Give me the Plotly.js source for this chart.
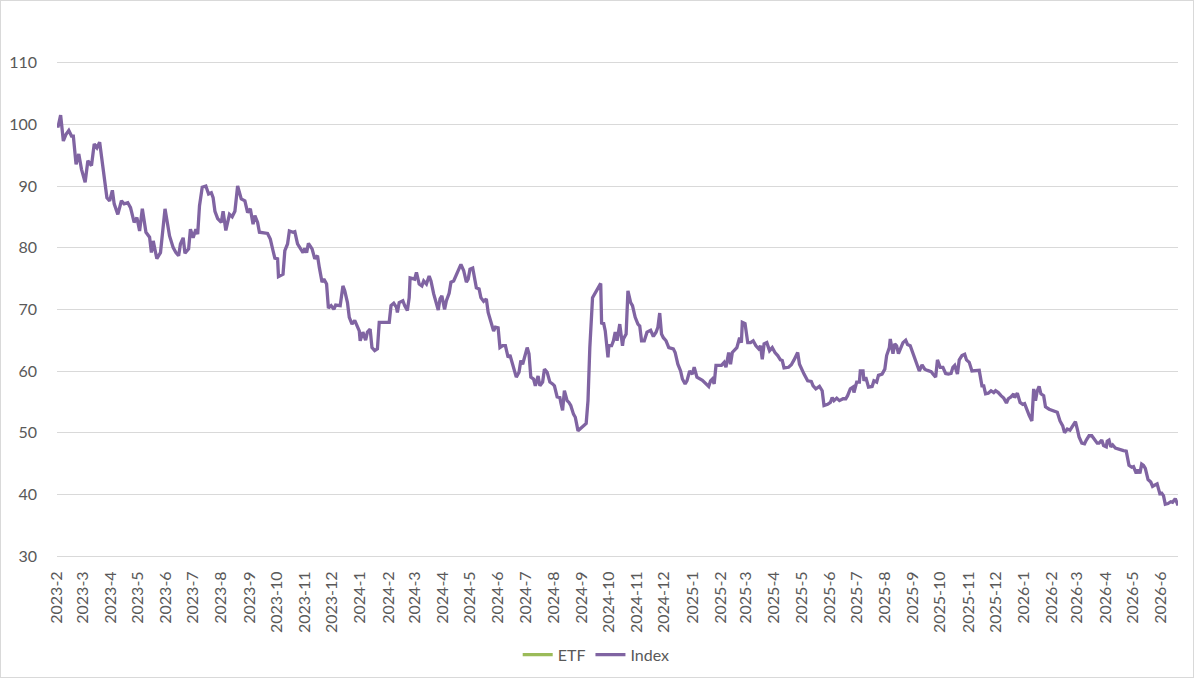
<!DOCTYPE html>
<html>
<head>
<meta charset="utf-8">
<script src="https://cdn.plot.ly/plotly-3.0.1.min.js"></script>
<style>
  html, body { margin: 0; padding: 0; background: #fff; }
  #chart { width: 1192px; height: 676px; border: 1px solid #d9d9d9; }
</style>
</head>
<body>
<div id="chart"></div>
<script>
// index values, one pair of arrays per year

var dates2023 = [
  '2023-02-01','2023-02-02','2023-02-05','2023-02-08','2023-02-11','2023-02-14','2023-02-17','2023-02-19','2023-02-22','2023-02-25','2023-02-28',
  '2023-03-04','2023-03-07','2023-03-11','2023-03-14','2023-03-17','2023-03-20','2023-03-24','2023-03-28','2023-03-31',
  '2023-04-03','2023-04-05','2023-04-09','2023-04-13','2023-04-16','2023-04-20','2023-04-23','2023-04-27','2023-04-30',
  '2023-05-03','2023-05-06','2023-05-10','2023-05-14','2023-05-16','2023-05-18','2023-05-22','2023-05-26','2023-05-31',
  '2023-06-05','2023-06-09','2023-06-12','2023-06-15','2023-06-17','2023-06-20','2023-06-22','2023-06-26','2023-06-28',
  '2023-07-01','2023-07-04','2023-07-06','2023-07-08','2023-07-11','2023-07-15','2023-07-18','2023-07-21','2023-07-23','2023-07-25','2023-07-28',
  '2023-08-01','2023-08-03','2023-08-06','2023-08-10','2023-08-13','2023-08-16','2023-08-19','2023-08-23','2023-08-27','2023-08-30',
  '2023-09-02','2023-09-05','2023-09-07','2023-09-10','2023-09-12','2023-09-21','2023-09-24','2023-09-27','2023-09-29',
  '2023-10-02','2023-10-03','2023-10-08','2023-10-10','2023-10-13','2023-10-15','2023-10-19','2023-10-21','2023-10-24','2023-10-27','2023-10-30',
  '2023-11-01','2023-11-03','2023-11-05','2023-11-09','2023-11-12','2023-11-15','2023-11-17','2023-11-20','2023-11-22','2023-11-25','2023-11-27','2023-11-30',
  '2023-12-03','2023-12-05','2023-12-10','2023-12-13','2023-12-15','2023-12-18','2023-12-20','2023-12-23','2023-12-26','2023-12-29','2023-12-31'
];
var index2023 = [
  100.0, 99.5, 101.5, 97.3, 98.4, 99.0, 98.1, 98.1, 93.5, 95.2, 92.7,
  90.6, 94.1, 93.3, 96.8, 96.2, 97.1, 93.0, 88.1, 87.6,
  89.3, 87.1, 85.4, 87.6, 87.1, 87.3, 86.5, 84.1, 84.9,
  82.7, 86.3, 82.5, 81.7, 79.2, 81.1, 78.2, 79.2, 86.3,
  81.9, 80.0, 79.2, 78.7, 80.6, 81.6, 79.1, 79.8, 83.0,
  81.6, 83.0, 82.2, 86.8, 89.8, 90.0, 88.7, 88.9, 88.1, 85.9, 84.7,
  84.1, 85.9, 82.8, 85.4, 85.0, 85.9, 90.0, 87.9, 87.6, 85.7,
  86.3, 83.8, 85.2, 84.1, 82.5, 82.3, 81.4, 79.5, 78.3,
  78.2, 75.3, 75.7, 79.5, 80.6, 82.7, 82.5, 82.6, 80.6, 80.0, 79.2,
  79.9, 79.2, 80.7, 79.8, 78.2, 78.7, 76.8, 74.4, 74.9, 74.1, 70.2, 70.6,
  70.0, 70.7, 70.6, 73.8, 73.0, 71.1, 68.7, 67.6, 68.2, 67.1, 66.5
];

var dates2024 = [
  '2024-01-01','2024-01-04','2024-01-07','2024-01-09','2024-01-12','2024-01-14','2024-01-17','2024-01-20','2024-01-22',
  '2024-02-02','2024-02-04','2024-02-07','2024-02-10','2024-02-11','2024-02-13','2024-02-17','2024-02-19','2024-02-22','2024-02-24','2024-02-25',
  '2024-03-01','2024-03-03','2024-03-06','2024-03-09','2024-03-11','2024-03-14','2024-03-17','2024-03-19','2024-03-22','2024-03-24','2024-03-27','2024-03-29','2024-03-31',
  '2024-04-03','2024-04-05','2024-04-08','2024-04-10','2024-04-13','2024-04-16','2024-04-19','2024-04-21','2024-04-24','2024-04-27','2024-04-29',
  '2024-05-01','2024-05-04','2024-05-08','2024-05-11','2024-05-13','2024-05-16','2024-05-19','2024-05-21','2024-05-24','2024-05-27','2024-05-29',
  '2024-06-01','2024-06-03','2024-06-06','2024-06-09','2024-06-12','2024-06-14','2024-06-17','2024-06-21','2024-06-24','2024-06-26','2024-06-28',
  '2024-07-01','2024-07-03','2024-07-05','2024-07-07','2024-07-10','2024-07-12','2024-07-15','2024-07-17','2024-07-20','2024-07-22','2024-07-25','2024-07-28','2024-07-31',
  '2024-08-02','2024-08-05','2024-08-08','2024-08-09','2024-08-11','2024-08-13','2024-08-16','2024-08-18','2024-08-20','2024-08-23','2024-08-25','2024-08-28',
  '2024-09-06','2024-09-08','2024-09-10','2024-09-13','2024-09-17','2024-09-22','2024-09-23','2024-09-25','2024-09-27','2024-09-30',
  '2024-10-01','2024-10-04','2024-10-06','2024-10-08','2024-10-10','2024-10-13','2024-10-16','2024-10-17','2024-10-20','2024-10-22','2024-10-25','2024-10-27','2024-10-30',
  '2024-11-02','2024-11-04','2024-11-06','2024-11-09','2024-11-12','2024-11-16','2024-11-19','2024-11-22','2024-11-24','2024-11-26','2024-11-28','2024-11-30',
  '2024-12-03','2024-12-06','2024-12-09','2024-12-11','2024-12-13','2024-12-16','2024-12-19','2024-12-21','2024-12-24','2024-12-26','2024-12-29'
];
var index2024 = [
  64.9, 66.3, 65.0, 66.3, 66.8, 63.8, 63.3, 63.6, 67.9,
  67.9, 70.6, 71.0, 70.3, 69.5, 71.1, 71.4, 70.6, 69.8, 71.9, 75.1,
  74.9, 76.0, 74.1, 73.8, 74.6, 74.1, 75.4, 74.6, 72.5, 71.4, 69.9, 71.7, 72.2,
  70.0, 71.4, 72.6, 74.4, 74.6, 75.7, 76.8, 77.3, 76.3, 74.4, 74.9,
  76.5, 76.7, 73.5, 73.3, 71.9, 71.3, 71.7, 69.5, 67.9, 66.5, 67.1,
  67.0, 63.8, 64.1, 64.1, 62.2, 62.6, 61.1, 59.0, 59.8, 61.7, 61.1,
  62.8, 63.8, 62.8, 59.0, 58.7, 57.6, 59.2, 57.6, 58.2, 60.3, 59.8, 58.2, 57.9,
  57.6, 55.8, 55.7, 54.9, 53.6, 56.8, 55.2, 54.9, 54.4, 53.0, 52.5, 50.3,
  51.5, 55.2, 63.8, 71.9, 73.0, 74.2, 67.6, 67.9, 66.5, 62.2,
  64.1, 64.1, 64.9, 66.3, 64.9, 67.6, 64.1, 65.2, 66.0, 73.0, 71.1, 70.6, 68.7,
  67.6, 67.3, 64.9, 64.9, 66.3, 66.6, 65.6, 66.3, 67.1, 69.4, 66.0, 65.4,
  64.9, 63.8, 63.7, 63.6, 63.0, 61.1, 60.0, 58.7, 57.9, 58.4, 60.0
];

var dates2025 = [
  '2025-01-01','2025-01-03','2025-01-06','2025-01-12','2025-01-19','2025-01-21','2025-01-23','2025-01-25','2025-01-27','2025-01-30',
  '2025-02-02','2025-02-05','2025-02-07','2025-02-10','2025-02-12','2025-02-14','2025-02-17','2025-02-19','2025-02-22','2025-02-24','2025-02-25','2025-02-28',
  '2025-03-03','2025-03-06','2025-03-09','2025-03-12','2025-03-15','2025-03-17','2025-03-19','2025-03-21','2025-03-24','2025-03-27','2025-03-30',
  '2025-04-02','2025-04-05','2025-04-08','2025-04-10','2025-04-12','2025-04-17','2025-04-20','2025-04-23','2025-04-27','2025-04-29',
  '2025-05-02','2025-05-04','2025-05-08','2025-05-12','2025-05-14','2025-05-17','2025-05-21','2025-05-24','2025-05-26','2025-05-30',
  '2025-06-02','2025-06-04','2025-06-06','2025-06-09','2025-06-12','2025-06-16','2025-06-19','2025-06-21','2025-06-24','2025-06-27','2025-06-28',
  '2025-07-01','2025-07-04','2025-07-05','2025-07-08','2025-07-09','2025-07-11','2025-07-14','2025-07-18','2025-07-20','2025-07-23','2025-07-25','2025-07-29',
  '2025-08-01','2025-08-03','2025-08-06','2025-08-07','2025-08-10','2025-08-12','2025-08-14','2025-08-16','2025-08-19','2025-08-21','2025-08-24','2025-08-26','2025-08-29',
  '2025-09-01','2025-09-04','2025-09-06','2025-09-08','2025-09-11','2025-09-14','2025-09-17','2025-09-21','2025-09-23','2025-09-26','2025-09-28',
  '2025-10-01','2025-10-04','2025-10-07','2025-10-10','2025-10-13','2025-10-15','2025-10-17','2025-10-20','2025-10-22','2025-10-25','2025-10-28','2025-10-30',
  '2025-11-02','2025-11-05','2025-11-09','2025-11-13','2025-11-16','2025-11-18','2025-11-20','2025-11-23','2025-11-26','2025-11-29',
  '2025-12-01','2025-12-04','2025-12-07','2025-12-10','2025-12-13','2025-12-15','2025-12-18','2025-12-21','2025-12-22','2025-12-25','2025-12-28','2025-12-31'
];
var index2025 = [
  59.5, 60.6, 59.0, 58.5, 57.5, 58.4, 58.7, 57.9, 60.9, 60.9,
  60.9, 61.4, 60.6, 63.0, 61.1, 63.0, 63.6, 63.8, 65.4, 64.6, 67.9, 67.7,
  64.6, 64.6, 64.9, 64.1, 63.6, 64.1, 61.9, 64.4, 64.6, 63.3, 63.8,
  63.0, 62.5, 61.8, 61.7, 60.5, 60.6, 61.0, 61.8, 63.0, 61.1,
  60.0, 59.5, 58.4, 58.3, 57.6, 57.1, 57.5, 56.8, 54.4, 54.6,
  54.9, 55.7, 55.2, 55.6, 55.2, 55.5, 55.5, 56.0, 57.1, 57.4, 56.5,
  58.2, 58.2, 60.0, 60.0, 58.4, 59.0, 57.4, 57.5, 58.4, 58.2, 59.3, 59.5,
  60.3, 62.5, 63.8, 65.2, 62.8, 64.4, 64.1, 62.8, 63.8, 64.6, 65.0, 64.3, 64.1,
  62.8, 61.9, 60.9, 60.0, 61.0, 60.3, 60.1, 59.9, 59.5, 59.0, 61.8,
  60.6, 60.6, 59.6, 59.5, 59.6, 60.6, 60.9, 59.5, 61.8, 62.5, 62.7, 61.8,
  61.4, 60.0, 60.0, 60.1, 57.6, 57.6, 56.3, 56.4, 56.8, 56.5,
  56.8, 56.5, 56.0, 55.6, 54.8, 55.5, 55.8, 56.3, 55.7, 56.4, 54.9, 54.6
];

var dates2026 = [
  '2026-01-02','2026-01-05','2026-01-07','2026-01-10','2026-01-12','2026-01-14','2026-01-16','2026-01-18','2026-01-20','2026-01-23','2026-01-25','2026-01-29',
  '2026-02-03','2026-02-07','2026-02-10','2026-02-13','2026-02-15','2026-02-18','2026-02-21','2026-02-24','2026-02-27',
  '2026-03-01','2026-03-03','2026-03-06','2026-03-09','2026-03-11','2026-03-14','2026-03-17','2026-03-20','2026-03-23','2026-03-25','2026-03-28','2026-03-30',
  '2026-04-02','2026-04-03','2026-04-05','2026-04-07','2026-04-09','2026-04-12','2026-04-14','2026-04-17','2026-04-21','2026-04-24','2026-04-25','2026-04-27','2026-04-30',
  '2026-05-02','2026-05-05','2026-05-07','2026-05-09','2026-05-11','2026-05-13','2026-05-15','2026-05-18','2026-05-21','2026-05-23','2026-05-26','2026-05-28','2026-05-31',
  '2026-06-02','2026-06-04','2026-06-06','2026-06-09','2026-06-12','2026-06-14','2026-06-17','2026-06-20'
];
var index2026 = [
  54.7, 53.3, 52.8, 51.9, 57.1, 55.2, 56.8, 57.5, 56.3, 56.0, 54.2, 53.8,
  53.5, 53.3, 51.9, 51.1, 50.0, 50.6, 50.4, 51.1, 51.8,
  50.6, 49.3, 48.3, 48.2, 48.8, 49.5, 49.5, 49.0, 48.3, 48.3, 48.8, 47.9,
  47.7, 48.6, 48.8, 47.7, 48.0, 47.5, 47.4, 47.2, 47.1, 47.0, 46.1, 44.7, 44.4,
  44.5, 43.4, 44.0, 43.4, 44.9, 44.7, 44.2, 42.4, 42.0, 41.3, 41.6, 41.7, 40.1,
  40.2, 39.8, 38.4, 38.5, 38.8, 38.7, 39.3, 38.2
];

// the ETF line is not visible in the picture, only its legend entry
var etfDates = ['2023-02-01'];
var etfValues = [null];

var yTicks = [30, 40, 50, 60, 70, 80, 90, 100, 110];

var indexDates = dates2023.concat(dates2024, dates2025, dates2026);
var indexValues = index2023.concat(index2024, index2025, index2026);

var traceEtf = {
  x: etfDates,
  y: etfValues,
  name: 'ETF',
  type: 'scatter',
  mode: 'lines',
  line: { color: '#9bbb59', width: 3.3 },
  showlegend: true
};

var traceIndex = {
  x: indexDates,
  y: indexValues,
  name: 'Index',
  type: 'scatter',
  mode: 'lines',
  line: { color: '#8064a2', width: 3.3 }
};

var font = { family: 'Lato, "Open Sans", sans-serif', size: 16, color: '#595959' };

var layout = {
  width: 1192,
  height: 676,
  margin: { l: 56, r: 15, t: 0, b: 121, autoexpand: false },
  paper_bgcolor: '#ffffff',
  plot_bgcolor: '#ffffff',
  font: font,
  showlegend: true,
  legend: {
    orientation: 'h',
    x: 0.481,
    xanchor: 'center',
    y: -0.178,
    yanchor: 'middle',
    itemwidth: 30,
    font: font
  },
  xaxis: {
    type: 'date',
    range: ['2023-02-01', '2026-06-20'],
    tick0: '2023-02-01',
    dtick: 'M1',
    tickformat: '%Y-%-m',
    tickangle: -90,
    ticks: '',
    showgrid: false,
    showline: true,
    linecolor: '#d9d9d9',
    linewidth: 1,
    ticklabelstandoff: 8,
    zeroline: false,
    fixedrange: true
  },
  yaxis: {
    range: [30, 120],
    tickvals: yTicks,
    ticks: '',
    showgrid: true,
    gridcolor: '#d9d9d9',
    gridwidth: 1,
    showline: false,
    zeroline: false,
    ticklabelstandoff: 19,
    fixedrange: true
  }
};

Plotly.newPlot('chart', [traceEtf, traceIndex], layout, { displayModeBar: false, staticPlot: true });
</script>
</body>
</html>
